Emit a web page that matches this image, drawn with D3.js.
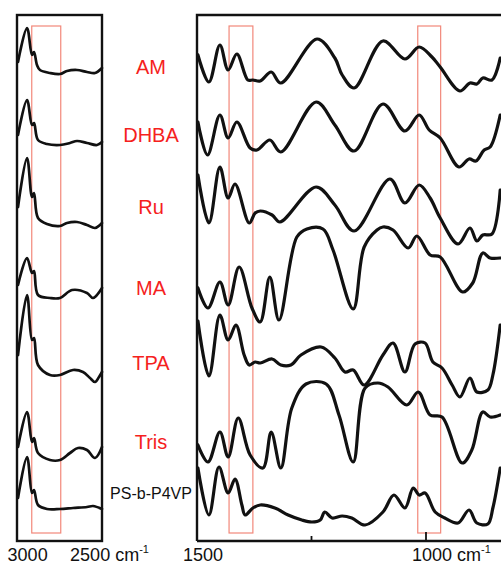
<!DOCTYPE html>
<html><head><meta charset="utf-8">
<script src="https://cdn.jsdelivr.net/npm/d3@7"></script>
<style>body{margin:0;background:#fff}svg{display:block}</style>
</head><body><svg id="c" width="501" height="565"></svg>
<script>
// ---- data ----
const seriesNames = ["AM","DHBA","Ru","MA","TPA","Tris","PS-b-P4VP"];
const labelLevels = [474,406,334,253,178,99,48];
const leftTicks = [3000,2500];
const rightTicks = [1250,1000];
const rightTickLabels = [1500,1000];
const leftBands = [[2967,2735]];
const rightBands = [[1430,1378],[1018,968]];

// high-wavenumber region (cm-1, stacked intensity)
const amL = [[3077,479],[3005,513],[2965,486],[2949,489],[2925,476],[2901,471],[2821,468],[2741,467],[2685,470],[2605,471],[2525,469],[2461,468],[2405,473]];
const dhbaL = [[3077,406],[3005,441],[2965,416],[2949,418],[2917,401],[2845,397],[2741,396],[2661,398],[2605,400],[2525,398],[2445,396],[2405,399]];
const ruL = [[3077,334],[3005,383],[2965,344],[2949,348],[2917,323],[2845,317],[2741,315],[2685,318],[2605,319],[2525,316],[2461,313],[2405,318]];
const maL = [[3077,256],[3005,283],[2965,268],[2949,270],[2917,246],[2821,243],[2741,243],[2645,251],[2525,248],[2477,243],[2405,253]];
const tpaL = [[3077,186],[3005,246],[2965,201],[2949,203],[2917,176],[2821,166],[2741,166],[2637,171],[2557,169],[2501,163],[2461,159],[2429,164],[2405,169]];
const trisL = [[3077,94],[3005,129],[2965,99],[2949,103],[2917,88],[2821,81],[2741,81],[2661,88],[2597,93],[2525,91],[2461,83],[2405,94]];
const psL = [[3077,43],[3005,84],[2965,48],[2949,51],[2917,36],[2845,32],[2741,32],[2637,33],[2525,34],[2477,35],[2405,32]];

// fingerprint region
const amR = [[1498,486],[1474,459],[1450,496],[1432,471],[1413,487],[1389,461],[1378,461],[1362,460],[1338,469],[1317,458],[1238,502],[1199,483],[1183,466],[1157,453],[1094,500],[1046,482],[1015,494],[987,484],[969,474],[926,450],[904,458],[889,457],[876,463],[856,461],[838,483]];
const dhbaR = [[1498,419],[1477,386],[1450,426],[1432,403],[1413,419],[1384,393],[1369,391],[1341,401],[1317,389],[1240,439],[1199,416],[1157,390],[1094,437],[1046,410],[1015,426],[993,411],[969,403],[928,374],[906,382],[891,380],[873,391],[860,394],[838,426]];
const ruR = [[1498,366],[1474,318],[1450,374],[1432,343],[1417,357],[1386,318],[1373,328],[1362,330],[1336,326],[1319,319],[1240,354],[1199,336],[1157,310],[1079,362],[1046,338],[1015,356],[991,343],[969,323],[930,297],[904,313],[889,300],[876,306],[856,307],[838,351]];
const maR = [[1498,253],[1476,233],[1450,259],[1432,236],[1408,274],[1380,233],[1362,219],[1341,264],[1321,221],[1282,304],[1260,312],[1225,312],[1203,291],[1159,232],[1135,294],[1107,311],[1094,314],[1072,311],[1039,293],[1020,305],[991,286],[969,284],[920,249],[898,258],[876,288],[860,283],[838,283]];
const tpaR = [[1498,220],[1474,165],[1450,226],[1432,201],[1415,216],[1397,186],[1386,176],[1373,179],[1362,178],[1336,182],[1317,176],[1295,176],[1273,186],[1229,194],[1199,183],[1177,169],[1159,171],[1135,156],[1094,186],[1072,198],[1046,169],[1024,197],[1002,198],[985,179],[965,173],[943,156],[926,144],[904,163],[889,149],[865,151],[854,166],[838,216]];
const trisR = [[1498,96],[1476,79],[1450,109],[1432,84],[1410,123],[1384,86],[1356,73],[1338,109],[1317,73],[1293,133],[1262,157],[1218,157],[1190,126],[1159,79],[1133,153],[1105,158],[1083,154],[1042,136],[1017,149],[991,126],[965,124],[921,78],[900,91],[876,129],[860,124],[838,126]];
const psR = [[1498,73],[1474,26],[1452,74],[1432,48],[1417,62],[1402,36],[1395,26],[1378,33],[1362,36],[1330,33],[1301,26],[1271,21],[1249,19],[1231,21],[1221,29],[1205,23],[1183,25],[1162,23],[1133,16],[1094,29],[1070,46],[1046,33],[1028,53],[1015,46],[1002,48],[980,29],[959,23],[930,18],[906,31],[889,18],[865,17],[854,33],[838,73]];

const leftSeries = [amL,dhbaL,ruL,maL,tpaL,trisL,psL];
const rightSeries = [amR,dhbaR,ruR,maR,tpaR,trisR,psR];

// ---- drawing ----
const svg = d3.select("#c");
const xL = d3.scaleLinear().domain([3085,2405]).range([17,102]);
const xR = d3.scaleLinear().domain([1500,1000]).range([197,426]);
const y = d3.scaleLinear().domain([0,526]).range([541,15]);

const bandColor = "#f2887a";
svg.append("g").selectAll("rect").data(leftBands).join("rect")
  .attr("x", d=>xL(d[0])).attr("width", d=>xL(d[1])-xL(d[0]))
  .attr("y", y(515)).attr("height", y(8)-y(515))
  .attr("fill","none").attr("stroke",bandColor).attr("stroke-width",1.2);
svg.append("g").selectAll("rect").data(rightBands).join("rect")
  .attr("x", d=>xR(d[0])).attr("width", d=>xR(d[1])-xR(d[0]))
  .attr("y", y(515)).attr("height", y(8)-y(515))
  .attr("fill","none").attr("stroke",bandColor).attr("stroke-width",1.2);

const curve = d3.curveCatmullRom.alpha(0.5);
const lineL = d3.line().x(d=>xL(d[0])).y(d=>y(d[1])).curve(curve);
const lineR = d3.line().x(d=>xR(d[0])).y(d=>y(d[1])).curve(curve);
svg.append("g").selectAll("path").data(leftSeries).join("path")
  .attr("d", lineL).attr("fill","none").attr("stroke","#111").attr("stroke-width",2.7)
  .attr("stroke-linejoin","round").attr("stroke-linecap","round");
svg.append("g").selectAll("path").data(rightSeries).join("path")
  .attr("d", lineR).attr("fill","none").attr("stroke","#111").attr("stroke-width",3.2)
  .attr("stroke-linejoin","round").attr("stroke-linecap","round");

// frames
svg.append("rect").attr("x",xL(3085)).attr("y",y(526)).attr("width",xL(2405)-xL(3085))
  .attr("height",y(0)-y(526)).attr("fill","none").attr("stroke","#111").attr("stroke-width",2.4);
svg.append("path").attr("d",`M${xR(1500)},${y(0)}V${y(526)}H510M${xR(1500)},${y(0)}H510`)
  .attr("fill","none").attr("stroke","#111").attr("stroke-width",2.4);
svg.append("g").selectAll("line").data(rightTicks).join("line")
  .attr("x1",d=>xR(d)).attr("x2",d=>xR(d))
  .attr("y1",y(0)).attr("y2",(d,i)=>y(0)-(i?9:5))
  .attr("stroke","#111").attr("stroke-width",1.8);

// axis labels
const fam = "'Liberation Sans', Arial, Helvetica, sans-serif";
function tickLabel(x, val, unit){
  const t = svg.append("text").attr("x",x).attr("y",561).attr("font-family",fam)
    .attr("font-size",18).attr("fill","#111");
  t.append("tspan").text(val);
  if(unit){
    t.append("tspan").text(" cm");
    t.append("tspan").attr("font-size",11).attr("dy",-8).text("-1");
  }
  return t;
}
leftTicks.forEach((v,i)=>{
  const t = tickLabel(0, v, i===1);
  const w = t.select("tspan").node().getComputedTextLength();
  t.attr("x", xL(v)-w/2);
});
rightTickLabels.forEach((v,i)=>{
  const t = tickLabel(0, v, i===1);
  const w = t.select("tspan").node().getComputedTextLength();
  t.attr("x", xR(v)+6-w/2);
});

// series labels
svg.append("g").selectAll("text").data(seriesNames).join("text")
  .attr("x",151).attr("y",(d,i)=>y(labelLevels[i]))
  .attr("dy","0.36em")
  .attr("text-anchor","middle").attr("font-family",fam)
  .attr("font-size",(d,i)=> i===6 ? 16 : 20)
  .attr("fill",(d,i)=> i===6 ? "#111" : "#f5211d")
  .text(d=>d);
</script></body></html>
